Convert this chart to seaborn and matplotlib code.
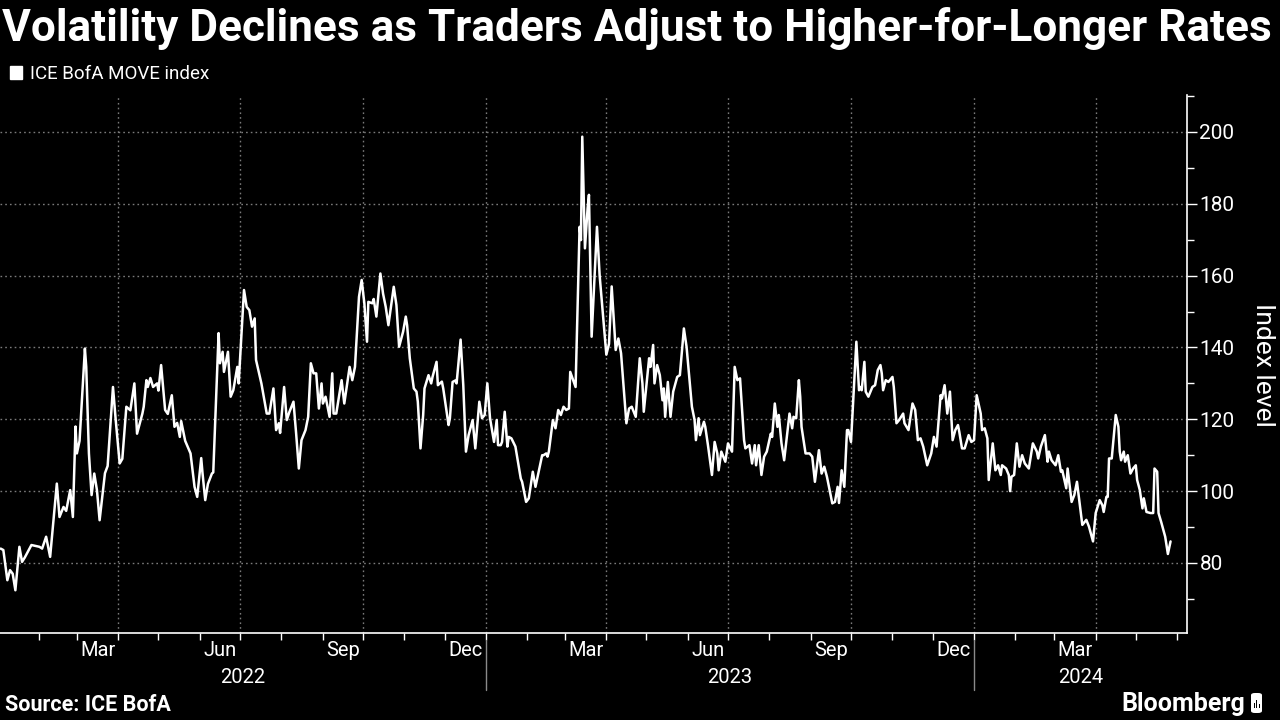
import matplotlib
matplotlib.use("Agg")
import matplotlib.pyplot as plt
import matplotlib.dates as mdates
from matplotlib.ticker import MultipleLocator, NullFormatter
from matplotlib.transforms import blended_transform_factory
from matplotlib.patches import Patch, FancyBboxPatch, Rectangle
import numpy as np
import pandas as pd
import seaborn as sns

# ---------------- data ----------------
START = pd.Timestamp("2022-01-01")  # day offsets below are counted from this date

days_2022 = [2, 4, 7, 9, 11, 13, 16, 18, 20, 25,
             31, 33, 36, 39, 44, 46, 49, 51, 54, 56,
             58, 59, 61, 65, 66, 68, 70, 72, 74, 76,
             80, 82, 86, 88, 91, 93, 96, 99, 102, 104,
             108, 109, 111, 112, 114, 116, 119, 120, 122, 125,
             127, 130, 132, 134, 136, 137, 140, 144, 147, 149,
             152, 153, 155, 157, 160, 161, 165, 166, 168, 169,
             172, 174, 176, 179, 180, 184, 186, 188, 190, 192,
             193, 197, 201, 203, 206, 208, 210, 211, 214, 216,
             218, 221, 223, 225, 227, 230, 232, 234, 236, 238,
             240, 242, 243, 245, 248, 250, 251, 253, 257, 259,
             263, 265, 267, 270, 272, 274, 276, 277, 280, 281,
             283, 286, 288, 290, 292, 296, 298, 300, 303, 305,
             306, 308, 311, 313, 314, 316, 318, 319, 322, 324,
             325, 328, 329, 332, 333, 337, 338, 340, 342, 343,
             346, 348, 350, 352, 355, 357, 360, 362, 364]
move_2022 = [84, 83.6, 75.2, 78, 77, 72.4, 84.5, 80.3, 81.5, 85,
             84.5, 84, 87.3, 81.7, 102.1, 92.8, 95.6, 94.5, 100.3, 92.8,
             118, 110.5, 114, 139.7, 134.6, 110.5, 98.9, 104.9, 100.3, 91.9,
             105, 107, 129, 120, 107.7, 109, 123.5, 122.5, 130, 116,
             121.6, 123.5, 130.9, 129, 131.5, 129, 130, 128, 135.1, 122.6,
             121.5, 126.7, 117.9, 119, 115.1, 119.5, 114, 110.5, 101.2, 98.4,
             109.2, 104.9, 97.5, 102, 104.9, 105.2, 144, 135.6, 138.8, 133.2,
             138.8, 126.3, 128.1, 134.6, 130, 156, 151.3, 150.4, 145.8, 148.1,
             136.5, 130, 121.6, 121.6, 128.6, 117, 118.9, 116.2, 129, 119.8,
             122.1, 124.9, 116, 106.3, 114.2, 117, 120.7, 135.6, 132.8, 132.8,
             123, 130, 124.4, 126.3, 120.7, 132.8, 121.6, 121.6, 130.9, 124.4,
             134.6, 130.9, 134.6, 154.1, 158.8, 152.3, 141.6, 152.7, 152.3, 153.5,
             148.6, 160.6, 155, 151.3, 146.2, 156.9, 151.8, 140.2, 144.4, 148.6,
             146.2, 137, 128.6, 127.7, 124.9, 111.9, 121.2, 128.6, 132.3, 130,
             131.8, 136, 129.5, 130.5, 128.6, 118.4, 120.3, 130.4, 130.8, 130,
             142.2, 129.5, 111, 115.6, 119.8, 111.9, 124.9, 120.3, 121.2]

days_2023 = [366, 368, 371, 373, 374, 376, 377, 379, 381, 382,
             384, 387, 391, 392, 395, 397, 400, 402, 407, 408,
             410, 411, 412, 415, 417, 419, 421, 423, 425, 427,
             428, 432, 435, 436, 437, 439, 441, 442, 444, 448,
             450, 453, 455, 457, 459, 462, 464, 466, 470, 472,
             474, 477, 480, 482, 483, 487, 488, 490, 491, 493,
             495, 497, 498, 499, 501, 503, 505, 508, 510, 513,
             515, 517, 519, 521, 522, 524, 525, 528, 529, 531,
             534, 536, 538, 539, 541, 544, 546, 549, 551, 553,
             555, 558, 559, 562, 564, 566, 567, 569, 571, 573,
             575, 578, 579, 581, 583, 584, 586, 588, 592, 594,
             595, 597, 599, 600, 601, 604, 607, 609, 611, 614,
             616, 618, 620, 622, 624, 626, 628, 629, 631, 633,
             635, 636, 638, 642, 644, 645, 646, 648, 649, 651,
             654, 656, 658, 660, 661, 662, 664, 666, 669, 670,
             672, 674, 677, 678, 681, 684, 686, 688, 690, 692,
             695, 698, 700, 702, 705, 706, 708, 709, 710, 712,
             714, 716, 718, 719, 721, 723, 726, 728]
move_2023 = [130, 120.3, 113.7, 119.8, 112.8, 112.8, 113.7, 122.1, 112.4, 115.1,
             114.7, 112.4, 103.5, 102.6, 97, 98, 105.4, 101.2, 110, 110,
             110.5, 109.6, 111, 119.8, 117.5, 122.6, 121.2, 123.5, 122.6, 123,
             133.2, 129, 173.6, 169.9, 198.7, 167.6, 178.8, 182.5, 143, 173.6,
             160, 147, 138, 141, 157, 139.3, 142.5, 138.4, 118.9, 123,
             123.5, 120.7, 137, 130, 122.1, 137, 134.6, 140.7, 130, 135.1,
             132.3, 125.3, 128.6, 120.7, 130.4, 120.7, 127.7, 131.8, 132.3, 145.3,
             140.2, 131.8, 123.5, 119.8, 114.2, 120.3, 115.6, 119.3, 117.9, 112.8,
             104.5, 113.7, 110.5, 105.8, 111, 108.2, 113.3, 111, 134.6, 130.9,
             131.4, 114.2, 111.9, 112.8, 107.7, 112.8, 107.2, 112.8, 104.5, 109.6,
             111, 116, 115.1, 124.4, 117.9, 121.2, 113.3, 108.6, 121.6, 117.5,
             120.7, 120.3, 130.9, 126.3, 117.9, 110.5, 110.5, 109.6, 102.6, 111.4,
             104.9, 106.8, 104, 100.3, 96.6, 97, 101.2, 96.7, 105.8, 101.2,
             117, 117, 113.7, 141.6, 128.1, 129, 128.1, 136, 127.7, 126.3,
             129, 129.5, 133.7, 135.1, 132.8, 128.1, 130.9, 130.4, 131.8, 129,
             118.9, 119.8, 121.6, 118.9, 117, 124.4, 122.6, 114.2, 114.7, 112.4,
             107.2, 110.5, 115.1, 112.4, 126.7, 125.8, 129.5, 125.8, 121.6, 127.7,
             114.2, 117, 118.4, 116.5, 111.9, 111.9, 115.6, 113.7]

days_2024 = [730, 732, 735, 736, 738, 740, 741, 744, 746, 748,
             750, 751, 754, 756, 757, 758, 760, 762, 764, 766,
             768, 771, 774, 777, 778, 780, 783, 785, 786, 788,
             791, 793, 795, 796, 799, 800, 803, 805, 807, 809,
             811, 814, 816, 819, 821, 824, 826, 827, 829, 830,
             831, 833, 836, 838, 839, 840, 842, 843, 845, 847,
             849, 851, 852, 854, 856, 857, 859, 862, 864, 865,
             867, 868, 870, 873, 875, 877]
move_2024 = [114.2, 126.7, 121.6, 117, 117.5, 114.7, 103.1, 113.3, 105.8, 107.2,
             104.5, 107.2, 106.3, 104.5, 100, 104, 104.5, 113.3, 106.8, 110,
             107.7, 106.3, 113.3, 111, 109.1, 112.4, 115.6, 108.2, 111, 108.6,
             107.2, 110, 105.4, 105.8, 100.8, 106.3, 97, 98.9, 102.6, 96.6,
             90.6, 92, 90.1, 86, 93.9, 97.5, 96.1, 94.2, 98.4, 98.4,
             109.1, 109.1, 121.2, 117.9, 111, 108.6, 111, 108.2, 110, 104.9,
             106.3, 107.2, 103.1, 100.3, 95.2, 98, 94.2, 93.9, 93.9, 106.3,
             105.4, 93.9, 91.4, 87.3, 82.5, 86]

month_labels = ["Mar", "Jun", "Sep", "Dec"]
year_labels = ["2022", "2023", "2024"]
y_ticks = [80, 100, 120, 140, 160, 180, 200]

title = "Volatility Declines as Traders Adjust to Higher-for-Longer Rates"
legend_label = "ICE BofA MOVE index"
y_label = "Index level"
source_text = "Source: ICE BofA"
brand_text = "Bloomberg"

# ---------------- frame ----------------
df = pd.DataFrame({
    "date": START + pd.to_timedelta(days_2022 + days_2023 + days_2024, unit="D"),
    "move": move_2022 + move_2023 + move_2024,
})

sns.set_theme(style="dark")
plt.rcParams["font.family"] = ["Roboto", "DejaVu Sans"]

W, H = 1280, 720
fig = plt.figure(figsize=(12.8, 7.2), dpi=100, facecolor="black")
ax = fig.add_axes([0, (H - 633) / H, 1187 / W, (633 - 95) / H])
ax.set_facecolor("black")

sns.lineplot(data=df, x="date", y="move", color="white", linewidth=1.8,
             estimator=None, sort=False, ax=ax)

x_start = START + pd.Timedelta(days=1.5)
x_end = START + pd.Timedelta(days=889.3)
ax.set_xlim(x_start, x_end)
ax.set_ylim(60.5, 210.3)

# spines
for s in ("left", "top"):
    ax.spines[s].set_visible(False)
for s in ("right", "bottom"):
    ax.spines[s].set_visible(True)
    ax.spines[s].set_color("white")
    ax.spines[s].set_linewidth(1.2)

# y axis on the right
ax.yaxis.tick_right()
ax.set_yticks(y_ticks)
ax.set_yticklabels([str(v) for v in y_ticks])
ax.yaxis.set_minor_locator(MultipleLocator(10))
ax.tick_params(axis="y", which="major", colors="white", labelcolor="white",
               labelsize=15, length=7, width=1, direction="out", pad=2,
               left=False, right=True)
ax.tick_params(axis="y", which="minor", colors="white", length=5, width=1,
               direction="out", left=False, right=True)
ax.set_ylabel("")
ax.set_xlabel("")

# x axis: monthly ticks, quarterly grid
ax.xaxis.set_major_locator(mdates.MonthLocator(bymonth=[1, 4, 7, 10]))
ax.xaxis.set_minor_locator(mdates.MonthLocator(bymonth=[2, 3, 5, 6, 8, 9, 11, 12]))
ax.xaxis.set_major_formatter(NullFormatter())
ax.xaxis.set_minor_formatter(NullFormatter())
ax.tick_params(axis="x", which="both", colors="white", length=5, width=1,
               direction="out", bottom=True)

ax.grid(False)
ax.grid(which="major", axis="both", color="#7a7a7a", linestyle=(0, (1.2, 2.2)),
        linewidth=1.0)
ax.set_axisbelow(True)

trans = blended_transform_factory(ax.transData, ax.transAxes)

# month labels centred on the month
for m0 in pd.date_range(x_start.normalize(), x_end, freq="MS"):
    name = m0.strftime("%b")
    mid = m0 + (m0 + pd.offsets.MonthBegin(1) - m0) / 2
    if name in month_labels and mid < x_end:
        ax.text(mid, -0.032, name, transform=trans, ha="center", va="center",
                color="white", fontsize=14.5, clip_on=False)

# year labels centred on the visible part of each year, with separators
for yl in year_labels:
    y0 = max(pd.Timestamp(f"{yl}-01-01"), x_start)
    y1 = min(pd.Timestamp(f"{int(yl) + 1}-01-01"), x_end)
    ax.text(y0 + (y1 - y0) / 2, -0.082, yl, transform=trans, ha="center",
            va="center", color="white", fontsize=14.5, clip_on=False)
    ys = pd.Timestamp(f"{yl}-01-01")
    if x_start < ys < x_end:
        ax.plot([ys, ys], [-0.013, -0.106], transform=trans, color="#8a8a8a",
                linewidth=1, clip_on=False)

# texts
fig.text(2 / W, 1 - 28 / H, title, color="white", fontsize=31.8, fontweight="bold",
         ha="left", va="center")
fig.legend(handles=[Patch(facecolor="white", edgecolor="white", label=legend_label)],
           loc="center left", bbox_to_anchor=(10 / W, 1 - 74 / H),
           bbox_transform=fig.transFigure, frameon=False, fontsize=13.5,
           labelcolor="white", handlelength=0.65, handleheight=0.7,
           handletextpad=0.4, borderaxespad=0, borderpad=0)
fig.text(1263 / W, 1 - 365 / H, y_label, color="white", fontsize=19,
         rotation=270, ha="center", va="center")
fig.text(5 / W, 1 - 705 / H, source_text, color="white", fontsize=15.5,
         fontweight="bold", ha="left", va="center")
fig.text(1245 / W, 1 - 704 / H, brand_text, color="white", fontsize=18,
         fontweight="bold", ha="right", va="center")

# small Bloomberg mark next to the brand name
fig.patches.append(FancyBboxPatch((1251 / W, 1 - 713 / H), 11 / W, 20 / H,
                                  boxstyle="round,pad=0,rounding_size=0.003",
                                  transform=fig.transFigure, facecolor="white",
                                  edgecolor="none"))
for bx, bh in ((1253.5, 5), (1256, 8), (1258.5, 4)):
    fig.patches.append(Rectangle((bx / W, 1 - 708 / H), 1.4 / W, bh / H,
                                 transform=fig.transFigure, facecolor="black",
                                 edgecolor="none"))

fig.savefig("out.png", dpi=100, facecolor="black")
